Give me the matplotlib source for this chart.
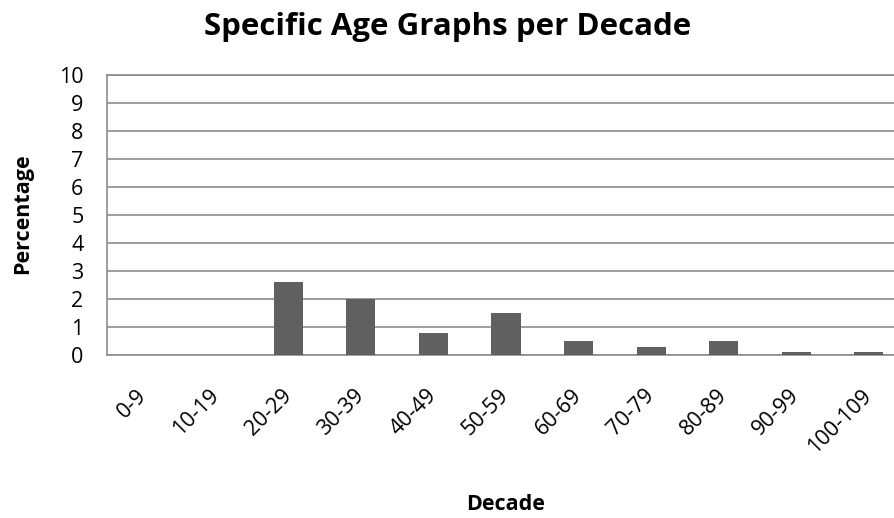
import matplotlib
matplotlib.use("Agg")
import matplotlib.pyplot as plt
import numpy as np

# age bands and share of cases in each
decades = ["0-9", "10-19", "20-29", "30-39", "40-49", "50-59",
           "60-69", "70-79", "80-89", "90-99", "100-109"]
percentage = [0, 0, 2.6, 2.0, 0.8, 1.5, 0.5, 0.3, 0.5, 0.1, 0.1]
yticks = list(range(0, 11))

plt.rcParams["font.family"] = ["Open Sans", "DejaVu Sans"]

W, H = 894, 518
fig = plt.figure(figsize=(W / 100, H / 100), dpi=100)
# plot area runs past the right edge of the figure
ax = fig.add_axes([107 / W, 1 - 355 / H, (905 - 107) / W, (355 - 75) / H])

x = np.arange(len(decades))
ax.bar(x, percentage, width=0.4, color="#606060", zorder=3)

ax.set_xlim(-0.5, len(decades) - 0.5)
ax.set_ylim(0, 10)
ax.set_yticks(yticks)
ax.set_yticklabels([str(t) for t in yticks], fontsize=15.5)
ax.set_xticks(x)
ax.set_xticklabels(decades, rotation=45, ha="right", va="center",
                   rotation_mode="anchor", fontsize=15.5)
ax.tick_params(length=0)
ax.tick_params(axis="y", pad=17)
ax.tick_params(axis="x", pad=27)

ax.grid(axis="y", color="#8c8c8c", linewidth=1.2, zorder=0)
for s in ["left", "bottom", "top"]:
    ax.spines[s].set_color("#8c8c8c")
    ax.spines[s].set_linewidth(1.2)
ax.spines["right"].set_visible(False)

fig.text(448 / W, 1 - 27 / H, "Specific Age Graphs per Decade",
         ha="center", va="center", fontsize=22.5, fontweight="bold")
fig.text(506 / W, 1 - 505 / H, "Decade", ha="center", va="center",
         fontsize=15.5, fontweight="bold")
fig.text(23 / W, 1 - 214 / H, "Percentage", ha="center", va="center",
         rotation=90, fontsize=15.5, fontweight="bold")

fig.savefig("out.png", dpi=100)
